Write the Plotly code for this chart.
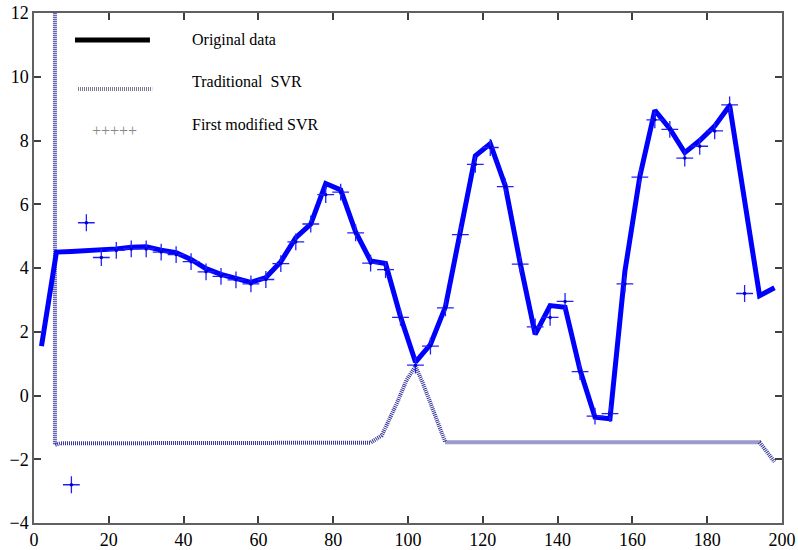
import plotly.graph_objects as go

# ---------------- data ----------------
x_orig = list(range(2, 199, 4))
y_orig = [1.55, 4.5, 4.52, 4.54, 4.56, 4.6, 4.65, 4.67, 4.56, 4.48,
          4.27, 3.98, 3.8, 3.67, 3.55, 3.7, 4.2, 4.95, 5.38, 6.65,
          6.45, 5.13, 4.22, 4.14, 2.47, 1.05, 1.6, 2.78, 5.08, 7.52,
          7.9, 6.58, 4.15, 1.92, 2.82, 2.77, 0.8, -0.68, -0.73, 3.9,
          6.88, 8.95, 8.37, 7.62, 8.0, 8.45, 9.1, 6.1, 3.13, 3.38]

x_mod = list(range(10, 191, 4))
y_mod = [-2.8, 5.42, 4.33, 4.55, 4.6, 4.6, 4.5, 4.42, 4.2, 3.88,
         3.74, 3.63, 3.5, 3.64, 4.14, 4.82, 5.38, 6.3, 6.38, 5.1,
         4.15, 3.95, 2.45, 0.95, 1.55, 2.75, 5.05, 7.25, 7.78, 6.55,
         4.12, 2.15, 2.45, 2.95, 0.75, -0.65, -0.57, 3.5, 6.85, 8.65,
         8.35, 7.45, 7.82, 8.3, 9.12, 3.2]

x_trad = [5.6, 5.6, 7, 20, 40, 60, 80, 90, 93, 97, 99.6, 102, 104, 107, 110,
          130, 150, 170, 190, 194, 198]
y_trad = [14, -1.55, -1.5, -1.5, -1.5, -1.5, -1.5, -1.48, -1.25, -0.25, 0.48,
          0.92, 0.38, -0.56, -1.47, -1.47, -1.47, -1.47, -1.47, -1.47, -2.08]

legend_names = ["Original data", "Traditional\u00a0 SVR", "First modified SVR"]

x_ticks = list(range(0, 201, 20))
y_ticks = list(range(-4, 13, 2))

FONT = "Liberation Serif"

fig = go.Figure()
fig.add_trace(go.Scatter(x=x_trad, y=y_trad, mode="lines",
                         line=dict(color="#34349a", width=4, dash="1px,1px"),
                         showlegend=False, name=legend_names[1]))
fig.add_trace(go.Scatter(x=x_orig, y=y_orig, mode="lines",
                         line=dict(color="#0000ff", width=5),
                         showlegend=False, name=legend_names[0]))
fig.add_trace(go.Scatter(x=x_mod, y=y_mod, mode="markers",
                         marker=dict(symbol="cross-thin", size=12, color="#1a1aff",
                                     line=dict(color="#2020ff", width=1.3)),
                         showlegend=False, name=legend_names[2]))
fig.add_trace(go.Scatter(x=x_mod, y=y_mod, mode="markers",
                         marker=dict(symbol="circle", size=3.5, color="#0000cc",
                                     line=dict(width=0)),
                         showlegend=False, hoverinfo="skip"))

# manual legend (matching the reference's black/gray samples)
shapes = [
    dict(type="line", xref="paper", yref="paper", x0=0.0548, x1=0.155, y0=0.947, y1=0.947,
         line=dict(color="black", width=5)),
    dict(type="line", xref="paper", yref="paper", x0=0.0588, x1=0.158, y0=0.851, y1=0.851,
         line=dict(color="#7a7a8e", width=4, dash="1px,1px")),
]
annotations = [
    dict(xref="paper", yref="paper", x=0.2086, y=0.947, text=legend_names[0],
         showarrow=False, xanchor="left", yanchor="middle",
         font=dict(family=FONT, size=16, color="black")),
    dict(xref="paper", yref="paper", x=0.2086, y=0.865, text=legend_names[1],
         showarrow=False, xanchor="left", yanchor="middle",
         font=dict(family=FONT, size=16, color="black")),
    dict(xref="paper", yref="paper", x=0.2086, y=0.782, text=legend_names[2],
         showarrow=False, xanchor="left", yanchor="middle",
         font=dict(family=FONT, size=16, color="black")),
    dict(xref="paper", yref="paper", x=0.0745, y=0.769, text="+++++",
         showarrow=False, xanchor="left", yanchor="middle",
         font=dict(family=FONT, size=16, color="#888888")),
]

axis_common = dict(showgrid=False, zeroline=False, showline=True, linecolor="#606060",
                   linewidth=1.5, mirror="ticks", ticks="inside", ticklen=7,
                   tickcolor="#404040", tickwidth=1.5, automargin=False)

fig.update_layout(
    width=798, height=550,
    margin=dict(l=34, r=16, t=13, b=27),
    paper_bgcolor="white", plot_bgcolor="white",
    font=dict(family=FONT, color="black", size=18),
    xaxis=dict(range=[0, 200], tickvals=x_ticks, **axis_common),
    yaxis=dict(range=[-4, 12], tickvals=y_ticks, **axis_common),
    shapes=shapes, annotations=annotations,
    showlegend=False,
)
fig.update_xaxes(tickfont=dict(family=FONT, size=18, color="black"))
fig.update_yaxes(tickfont=dict(family=FONT, size=18, color="black"))

fig.write_html("out.html")
